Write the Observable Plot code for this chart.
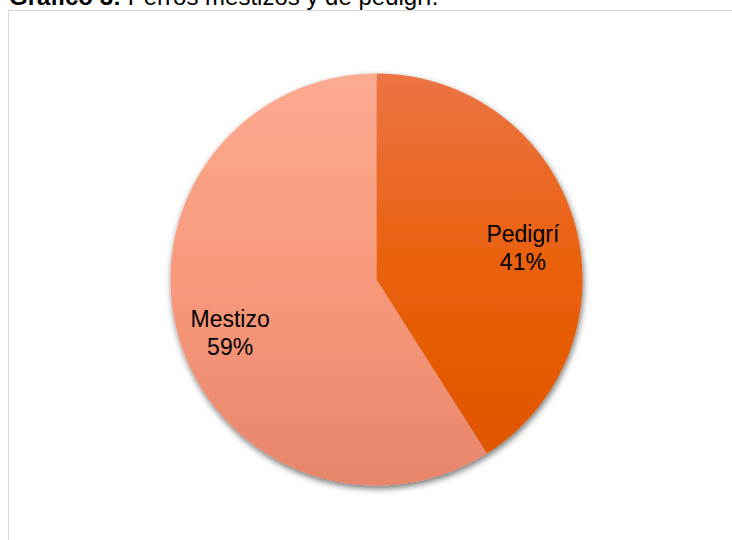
<!DOCTYPE html>
<html>
<head>
<meta charset="utf-8">
<script src="https://cdn.jsdelivr.net/npm/d3@7"></script>
<script src="https://cdn.jsdelivr.net/npm/@observablehq/plot@0.6"></script>
<style>
  html, body { margin: 0; padding: 0; background: #fff; overflow: hidden; }
  body { width: 732px; height: 540px; position: relative; font-family: "Liberation Sans", Arial, sans-serif; }
  #title { position: absolute; left: 9px; top: -15px; font-size: 24px; line-height: 24px; color: #000; white-space: nowrap; z-index: 2; }
  #frame { position: absolute; left: 8px; top: 10px; width: 900px; height: 700px; border: 1.5px solid #d9d9d9; box-sizing: border-box; }
  #chart { position: absolute; left: 0; top: 0; }
</style>
</head>
<body>
<div id="title"><b>Gráfico 3:</b> Perros mestizos y de pedigrí.</div>
<div id="frame"></div>
<div id="chart"></div>
<script>
const categories = ["Pedigrí", "Mestizo"];
const values = [41, 59];
const labels = ["Pedigrí\n41%", "Mestizo\n59%"];
const gradTop = ["#ec7445", "#fcab90"];
const gradMid = ["#e95f08", "#f9997b"];
const gradBottom = ["#de5300", "#e7856a"];

const pie = d3.pie().sort(null).value(d => d)(values);
const slices = pie.map((p, i) => {
  const pts = [{x: 0, y: 0}];
  const n = Math.max(2, Math.ceil((p.endAngle - p.startAngle) / (Math.PI / 360)));
  for (let k = 0; k <= n; k++) {
    const a = p.startAngle + (p.endAngle - p.startAngle) * k / n;
    pts.push({x: Math.sin(a), y: Math.cos(a)});
  }
  const mid = (p.startAngle + p.endAngle) / 2;
  return {name: categories[i], pts, lx: 0.74 * Math.sin(mid), ly: 0.74 * Math.cos(mid) - 0.05, label: labels[i]};
});

const defsMark = (index, scales) => {
  const ns = "http://www.w3.org/2000/svg";
  const defs = document.createElementNS(ns, "defs");
  const y1 = scales.y(1), y2 = scales.y(-1);
  categories.forEach((c, i) => {
    const g = document.createElementNS(ns, "linearGradient");
    g.setAttribute("id", "grad" + i);
    g.setAttribute("gradientUnits", "userSpaceOnUse");
    g.setAttribute("x1", 0); g.setAttribute("x2", 0);
    g.setAttribute("y1", y1); g.setAttribute("y2", y2);
    [[0, gradTop[i]], [0.5, gradMid[i]], [1, gradBottom[i]]].forEach(([o, col]) => {
      const s = document.createElementNS(ns, "stop");
      s.setAttribute("offset", o);
      s.setAttribute("stop-color", col);
      g.appendChild(s);
    });
    defs.appendChild(g);
  });
  const f = document.createElementNS(ns, "filter");
  f.setAttribute("id", "shadow");
  f.setAttribute("x", "-10%"); f.setAttribute("y", "-10%");
  f.setAttribute("width", "120%"); f.setAttribute("height", "125%");
  const ds = document.createElementNS(ns, "feDropShadow");
  ds.setAttribute("dx", 1); ds.setAttribute("dy", 3);
  ds.setAttribute("stdDeviation", 3);
  ds.setAttribute("flood-color", "#000");
  ds.setAttribute("flood-opacity", 0.55);
  f.appendChild(ds);
  defs.appendChild(f);
  return defs;
};

const plot = Plot.plot({
  width: 732,
  height: 540,
  marginLeft: 170,
  marginRight: 150,
  marginTop: 73,
  marginBottom: 55,
  x: {domain: [-1, 1], axis: null},
  y: {domain: [-1, 1], axis: null},
  style: {background: "transparent", overflow: "visible"},
  marks: [
    defsMark,
    ...slices.map((s, i) => Plot.line(s.pts, {x: "x", y: "y", fill: `url(#grad${i})`, stroke: "none", curve: "linear-closed"})),
    Plot.text(slices, {x: "lx", y: "ly", text: "label", fontSize: 23, lineHeight: 1.2, fill: "#000", fontFamily: "Liberation Sans, Arial, sans-serif"})
  ]
});

const lineGroups = plot.querySelectorAll('g[aria-label="line"]');
const wrap = document.createElementNS("http://www.w3.org/2000/svg", "g");
wrap.setAttribute("filter", "url(#shadow)");
if (lineGroups.length) {
  lineGroups[0].parentNode.insertBefore(wrap, lineGroups[0]);
  lineGroups.forEach(g => wrap.appendChild(g));
}
document.getElementById("chart").appendChild(plot);
</script>
</body>
</html>
